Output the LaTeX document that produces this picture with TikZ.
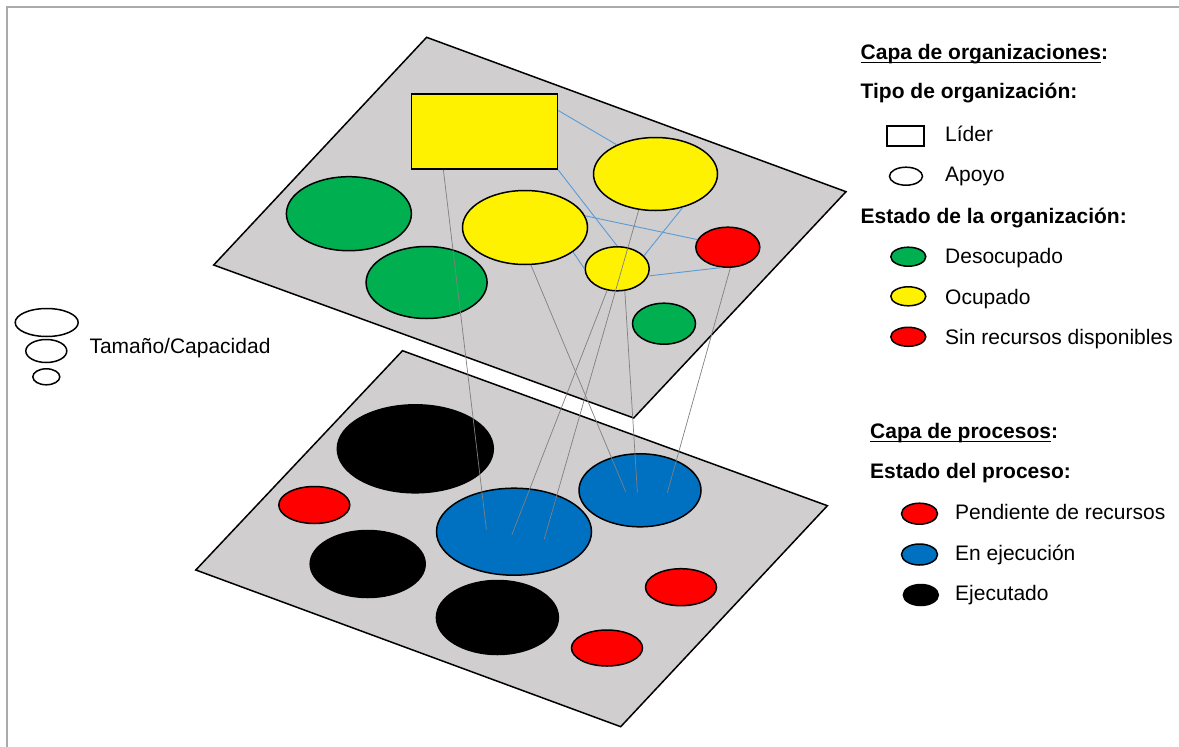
\documentclass[tikz,border=0pt]{standalone}
\usepackage{fontspec}
\setmainfont{Liberation Sans}
\usetikzlibrary{shapes.geometric}
\definecolor{capagris}{HTML}{D0CECE}
\definecolor{verdeorg}{HTML}{00B050}
\definecolor{azulproc}{HTML}{0070C0}
\definecolor{azulenlace}{HTML}{5B9BD5}
\definecolor{marco}{HTML}{AAAAAA}
\newcommand{\capaul}[1]{\setbox0\hbox{#1}\rlap{\rule[-3.6pt]{\wd0}{1.3pt}}\box0}

\begin{document}
\begin{tikzpicture}[x=1pt, y=-1pt,
    capa/.style={draw, line width=1.5pt, fill=capagris},
    forma/.style={draw, ellipse, line width=1.5pt, inner sep=0pt},
    caja/.style={draw, rectangle, line width=1.5pt, inner sep=0pt},
    enlace/.style={draw=azulenlace, line width=0.9pt},
    vinculo/.style={draw=gray, line width=0.7pt},
    txt/.style={anchor=base west, inner sep=0pt, font=\fontsize{21}{25}\selectfont},
    tit/.style={txt, font=\fontsize{21}{25}\selectfont\bfseries}]
    \useasboundingbox (0,0) rectangle (1179,747);
    \draw[marco, line width=2pt] (6.5,747) -- (6.5,7) -- (1179,7);

    \draw[capa] (402.5,350.7) -- (827.4,505.7) -- (620.7,726.7) -- (195.8,570) -- cycle;
    \draw[capa] (426.6,37.3) -- (846,191.7) -- (633.7,418) -- (213.7,265) -- cycle;

    \node[caja, fill=yellow, minimum width=146pt, minimum height=75pt] (lider) at (484.4,131.6) {};
    \node[forma, fill=yellow, minimum width=124pt, minimum height=73pt] (ocupA) at (655.5,174) {};
    \node[forma, fill=yellow, minimum width=125pt, minimum height=74pt] (ocupB) at (525,227.5) {};
    \node[forma, fill=yellow, minimum width=64pt, minimum height=44pt] (ocupC) at (617.2,268.8) {};
    \node[forma, fill=red, minimum width=64pt, minimum height=40pt] (sinrec) at (727.8,247.2) {};
    \node[forma, fill=verdeorg, minimum width=125pt, minimum height=74pt] (desocA) at (348.9,213.7) {};
    \node[forma, fill=verdeorg, minimum width=121pt, minimum height=72pt] (desocB) at (426.6,282.5) {};
    \node[forma, fill=verdeorg, minimum width=63pt, minimum height=41pt] (desocC) at (664,323.7) {};

    \draw[enlace] (lider.16) -- (ocupA.143);
    \draw[enlace] (lider.south east) -- (ocupC.north);
    \draw[enlace] (ocupB.11) -- (sinrec.166);
    \draw[enlace] (ocupB.-27) -- (ocupC.west);
    \draw[enlace] (ocupA.-51) -- (ocupC.26);
    \draw[enlace] (ocupC.-13) -- (sinrec.-107);

    \node[forma, fill=black, minimum width=156pt, minimum height=88pt] (hechoA) at (415.3,448.8) {};
    \node[forma, fill=red, minimum width=71pt, minimum height=37pt] (pendA) at (314.3,505) {};
    \node[forma, fill=azulproc, minimum width=155pt, minimum height=87pt] (ejecA) at (514,531.7) {};
    \node[forma, fill=azulproc, minimum width=122pt, minimum height=73pt] (ejecB) at (640,490.3) {};
    \node[forma, fill=black, minimum width=115pt, minimum height=67pt] (hechoB) at (367.7,564) {};
    \node[forma, fill=black, minimum width=122pt, minimum height=74pt] (hechoC) at (497.4,617.5) {};
    \node[forma, fill=red, minimum width=71pt, minimum height=37pt] (pendB) at (681,587.2) {};
    \node[forma, fill=red, minimum width=71pt, minimum height=36pt] (pendC) at (607,648) {};

    \coordinate (finA) at (486.4,529.3);
    \coordinate (finB) at (625.7,491.7);
    \coordinate (finC) at (511.8,535);
    \coordinate (finD) at (544.2,539.3);
    \coordinate (finE) at (637.4,492.7);
    \coordinate (finF) at (667.3,492.7);
    \draw[vinculo] (lider.223) -- (finA);
    \draw[vinculo] (ocupB.-81) -- (finB);
    \draw[vinculo] (ocupC.-115) -- (finC);
    \draw[vinculo] (ocupA.-115) -- (finD);
    \draw[vinculo] (ocupC.-71) -- (finE);
    \draw[vinculo] (sinrec.-83) -- (finF);

    \node[forma, minimum width=63pt, minimum height=28pt] (tamA) at (46.7,322.5) {};
    \node[forma, minimum width=41pt, minimum height=23pt] (tamB) at (46.3,351) {};
    \node[forma, minimum width=27pt, minimum height=16pt] (tamC) at (46.3,376.8) {};
    \node[txt] (tamTxt) at (89.3,353.3) {Tamaño/Capacidad};

    \node[tit] (capaOrg) at (860.5,59.3) {\capaul{Capa de organizaciones}:};
    \node[tit] (tipoOrg) at (860.5,98.3) {Tipo de organización:};
    \node[caja, minimum width=37pt, minimum height=20pt] (leyLider) at (905.3,136) {};
    \node[txt] (txtLider) at (945,141.7) {Líder};
    \node[forma, fill=white, minimum width=33pt, minimum height=18pt] (leyApoyo) at (906,176.2) {};
    \node[txt] (txtApoyo) at (945,181) {Apoyo};
    \node[tit] (estadoOrg) at (860.5,223.3) {Estado de la organización:};
    \node[forma, fill=verdeorg, minimum width=35pt, minimum height=19pt] (leyDesoc) at (908.3,256.7) {};
    \node[txt] (txtDesoc) at (945,263.3) {Desocupado};
    \node[forma, fill=yellow, minimum width=35pt, minimum height=19pt] (leyOcup) at (908.3,296.3) {};
    \node[txt] (txtOcup) at (945,304) {Ocupado};
    \node[forma, fill=red, minimum width=35pt, minimum height=19pt] (leySinrec) at (908.3,336.8) {};
    \node[txt] (txtSinrec) at (945,344.3) {Sin recursos disponibles};

    \node[tit] (capaProc) at (870,438.3) {\capaul{Capa de procesos}:};
    \node[tit] (estadoProc) at (870,478.3) {Estado del proceso:};
    \node[forma, fill=red, minimum width=36pt, minimum height=21pt] (leyPend) at (919.5,513.7) {};
    \node[txt] (txtPend) at (955,519) {Pendiente de recursos};
    \node[forma, fill=azulproc, minimum width=36pt, minimum height=21pt] (leyEjec) at (919.5,554.5) {};
    \node[txt] (txtEjec) at (955,560) {En ejecución};
    \node[forma, fill=black, minimum width=35pt, minimum height=21pt] (leyHecho) at (920.8,595) {};
    \node[txt] (txtHecho) at (955,600) {Ejecutado};
\end{tikzpicture}
\end{document}
